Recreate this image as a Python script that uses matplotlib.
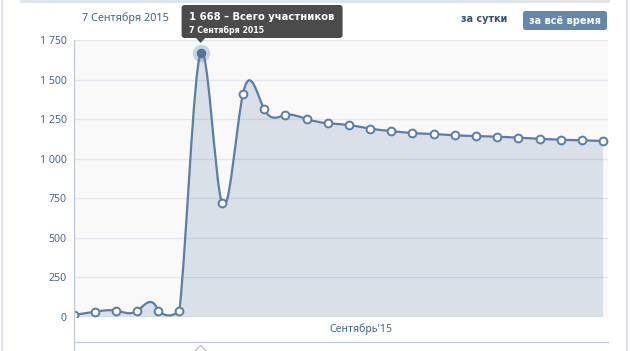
import numpy as np
import matplotlib
matplotlib.use('Agg')
import matplotlib.pyplot as plt
from matplotlib.path import Path
from matplotlib.patches import PathPatch, FancyBboxPatch, Polygon

plt.rcParams['font.family'] = ['Noto Sans', 'DejaVu Sans']
BOLD = ['DejaVu Sans']

# участники по дням, 1–26 сентября 2015
days = list(range(1, 27))
members = [13, 33, 40, 38, 40, 38, 1668, 722, 1409, 1314, 1276, 1251, 1224,
           1213, 1190, 1175, 1162, 1156, 1148, 1143, 1139, 1133, 1126, 1120,
           1116, 1112]
y_ticks = [0, 250, 500, 750, 1000, 1250, 1500, 1750]
y_labels = ['0', '250', '500', '750', '1 000', '1 250', '1 500', '1 750']
hl = 6  # выделенная точка (7 сентября)
month_label = "Сентябрь'15"

W, H = 630, 351
LINE = '#5a7ea6'
BLUE_TXT = '#45678f'


def spline_verts(y):
    # natural cubic spline as bezier segments (chart draws a smoothed line)
    n = len(y)
    A = np.zeros((n, n))
    r = np.zeros(n)
    A[0, 0] = A[-1, -1] = 1
    for i in range(1, n - 1):
        A[i, i - 1:i + 2] = [1, 4, 1]
        r[i] = 6 * (y[i - 1] - 2 * y[i] + y[i + 1])
    M = np.linalg.solve(A, r)
    d = np.empty(n)
    d[:-1] = np.diff(y) - (2 * M[:-1] + M[1:]) / 6
    d[-1] = y[-1] - y[-2] + (M[-2] + 2 * M[-1]) / 6
    verts = [(0, y[0])]
    for i in range(n - 1):
        verts += [(i + 1 / 3, max(y[i] + d[i] / 3, 0)),
                  (i + 2 / 3, max(y[i + 1] - d[i + 1] / 3, 0)),
                  (i + 1, y[i + 1])]
    codes = [Path.MOVETO] + [Path.CURVE4] * 3 * (n - 1)
    return verts, codes


fig = plt.figure(figsize=(W / 100, H / 100), dpi=100)
fig.patch.set_facecolor('white')

x = np.arange(len(members))
yv = np.array(members, dtype=float)

ax = fig.add_axes([73.5 / W, 1 - 317 / H, 534 / W, 277 / H])
ax.set_facecolor('#f9f9f9')
ax.set_xlim(0, 25.21)
ax.set_ylim(0, 1750)
ax.set_yticks(y_ticks)
ax.set_yticklabels(y_labels)
ax.set_xticks([])
ax.tick_params(axis='y', length=0, pad=5, labelsize=7.6, labelcolor=BLUE_TXT)
for s in ax.spines.values():
    s.set_visible(False)
ax.grid(axis='y', color='#e3e7ed', lw=1)
ax.set_axisbelow(True)

verts, codes = spline_verts(yv)
fill_path = Path(verts + [(x[-1], 0), (0, 0), (0, 0)],
                 codes + [Path.LINETO, Path.LINETO, Path.CLOSEPOLY])
ax.add_patch(PathPatch(fill_path, facecolor=LINE, alpha=0.2, lw=0))
ax.add_patch(PathPatch(Path(verts, codes), facecolor='none', edgecolor=LINE,
                       lw=1.6, capstyle='round', joinstyle='round'))

mask = x != hl
ax.plot(x[mask], yv[mask], 'o', ms=5.6, mfc='white', mec=LINE, mew=1.4)
ax.plot(x[hl], yv[hl], 'o', ms=12.5, color=LINE, alpha=0.3, mew=0)
ax.plot(x[hl], yv[hl], 'o', ms=5.8, mfc='#4d729d', mec='#4d729d', mew=1)

# overlay in pixel coords for the widget chrome
ov = fig.add_axes([0, 0, 1, 1])
ov.set_xlim(0, W)
ov.set_ylim(H, 0)
ov.axis('off')

frame = '#dce3ea'
ov.plot([2, 2], [0, H], color=frame, lw=1.5)
ov.plot([627, 627], [0, H], color=frame, lw=1.5)
ov.plot([21, 607.5], [1, 1], color=frame, lw=2)
ov.plot([73.5, 73.5], [40, H], color='#c3cdd8', lw=1)
ov.plot([73.5, 607.5], [341.7, 341.7], color='#c3cdd8', lw=1)

# position of highlighted point in pixels
px, py = ax.transData.transform((x[hl], yv[hl]))
py = H - py

ov.text(125, 18, f'{days[hl]} Сентября 2015', ha='center', va='center',
        fontsize=7.8, color=BLUE_TXT)
ov.text(484, 19.5, 'за сутки', ha='center', va='center', fontsize=6.9,
        fontweight='bold', family=BOLD, color='#2f5377')
ov.add_patch(FancyBboxPatch((523, 11), 84, 19,
                            boxstyle='round,pad=0,rounding_size=2.5',
                            fc='#6587ad', ec='none'))
ov.text(565, 20.5, 'за всё время', ha='center', va='center', fontsize=7.0,
        fontweight='bold', family=BOLD, color='white')

# tooltip
tip_bg = '#4b4b4b'
ov.add_patch(FancyBboxPatch((px - 19, 5), 161, 33,
                            boxstyle='round,pad=0,rounding_size=3',
                            fc=tip_bg, ec='none'))
ov.add_patch(Polygon([(px - 5, 37.5), (px + 5, 37.5), (px, py - 10)],
                     closed=True, fc=tip_bg, ec='none'))
ov.text(px - 12, 16.5, f'{members[hl]:,}'.replace(',', ' ') + ' – Всего участников',
        ha='left', va='center', fontsize=7.2, fontweight='bold', family=BOLD,
        color='white')
ov.text(px - 12, 30, f'{days[hl]} Сентября 2015', ha='left', va='center',
        fontsize=5.7, fontweight='bold', family=BOLD, color='white')

ov.text(361, 329.5, month_label, ha='center', va='center', fontsize=7.6,
        color=BLUE_TXT)
ov.add_patch(Polygon([(px - 5.5, 351), (px, 345.5), (px + 5.5, 351)],
                     closed=False, fc='white', ec='#b7c5d5', lw=1))

fig.savefig('out.png', dpi=100)
